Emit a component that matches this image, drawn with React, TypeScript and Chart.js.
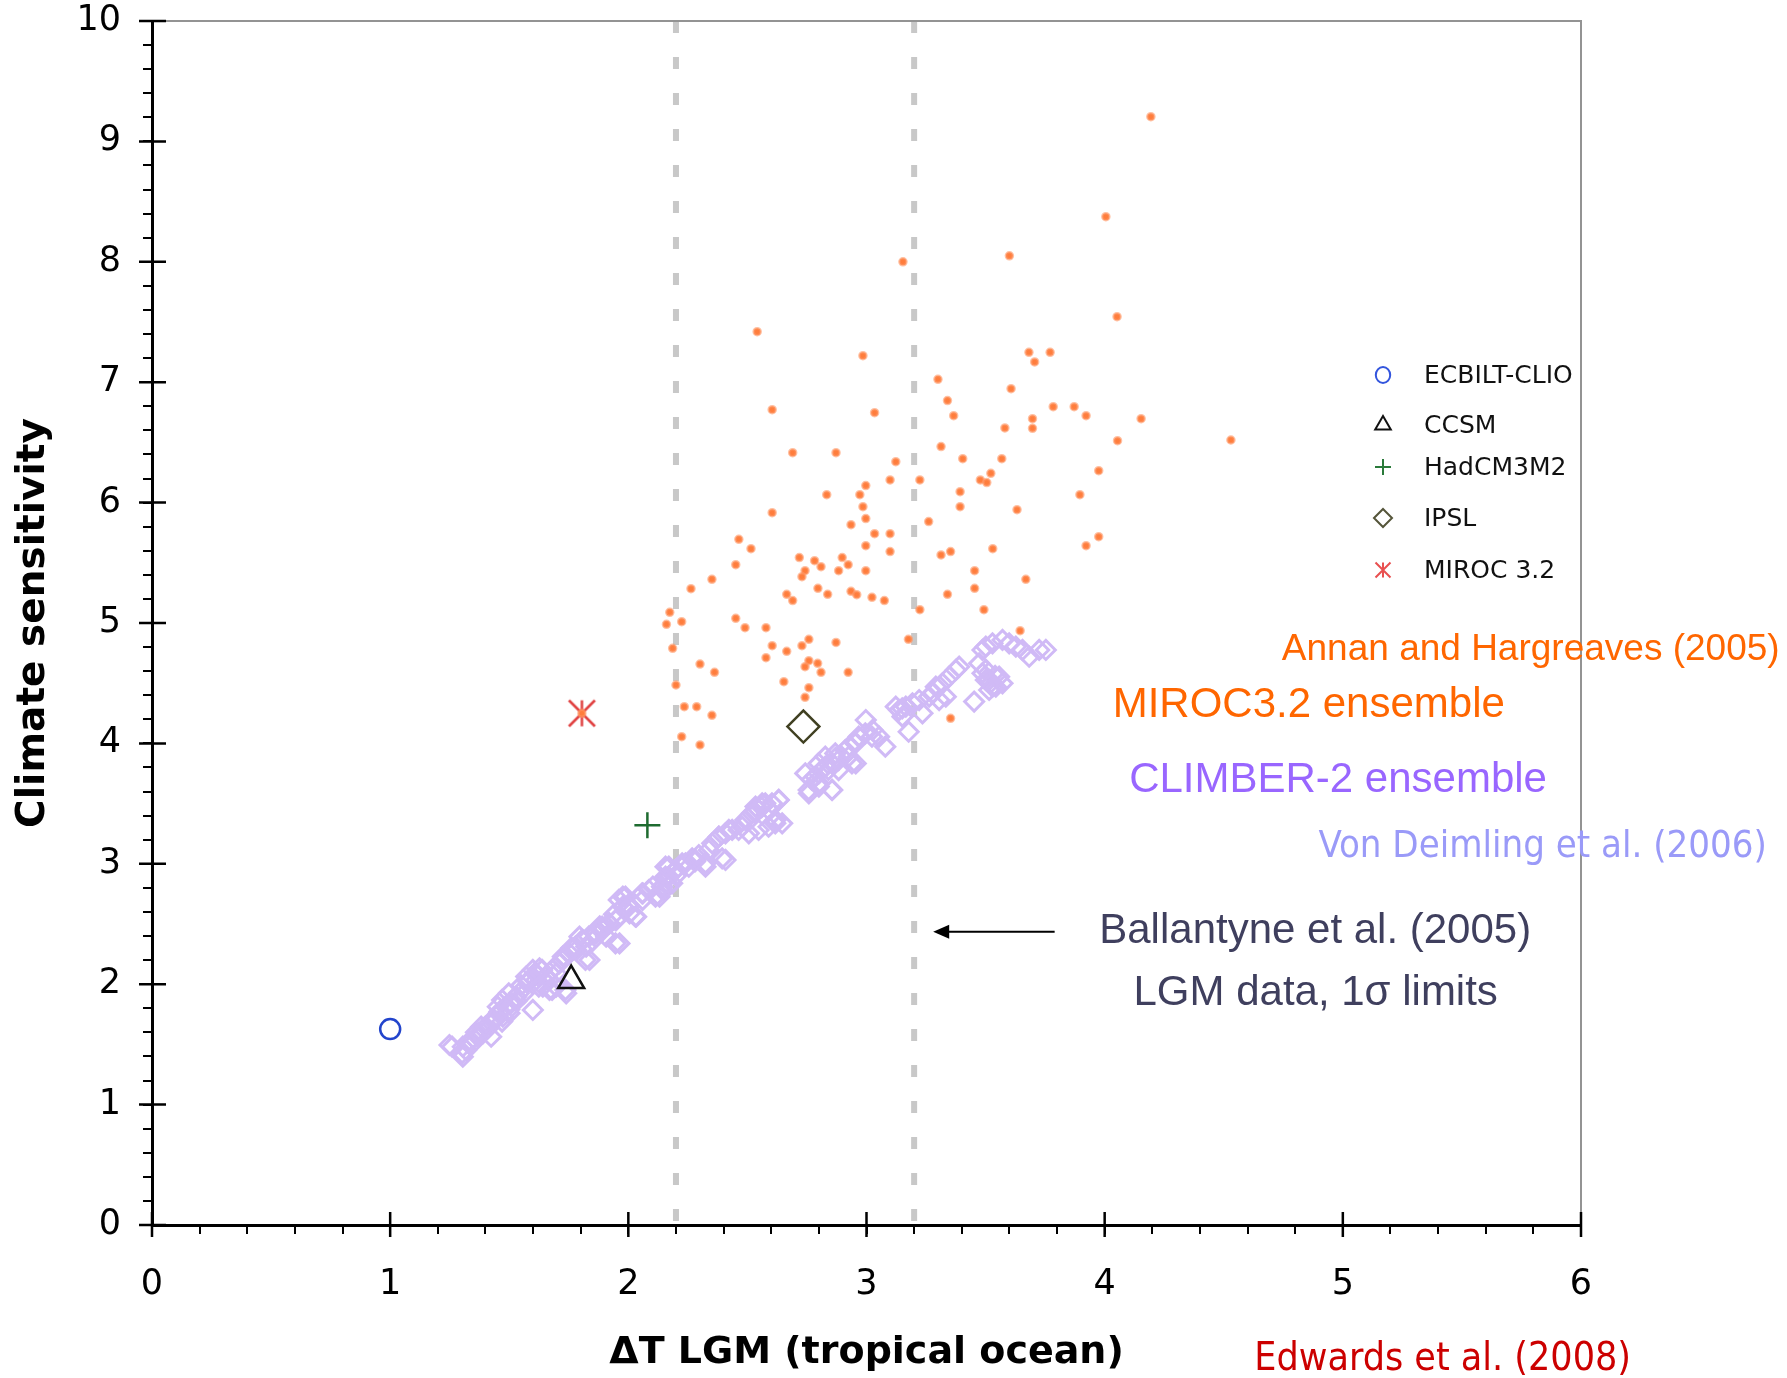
import React, { useEffect, useRef } from 'react';
import { Chart, registerables } from 'chart.js';

Chart.register(...registerables);

// ---------------- data ----------------
const X_TICK_LABELS = ['0', '1', '2', '3', '4', '5', '6'];
const Y_TICK_LABELS = ['0', '1', '2', '3', '4', '5', '6', '7', '8', '9', '10'];

// Annan and Hargreaves (2005) MIROC3.2 ensemble  [ΔT, sensitivity]
const MIROC_ENSEMBLE: [number, number][] = [
  [4.194, 9.205], [4.005, 8.375], [3.6, 8.05], [3.153, 8.0], [4.53, 6.52],
  [2.541, 7.42], [4.052, 7.544], [2.985, 7.22], [3.682, 7.248], [3.771, 7.248],
  [3.706, 7.168], [3.30, 7.024], [3.607, 6.946], [3.34, 6.847], [2.604, 6.772],
  [3.034, 6.747], [3.366, 6.722], [3.784, 6.797], [3.872, 6.797], [3.922, 6.722],
  [3.697, 6.697], [3.697, 6.617], [3.581, 6.62], [4.153, 6.697], [4.054, 6.514],
  [3.313, 6.465], [2.69, 6.415], [2.872, 6.415], [3.123, 6.34], [3.404, 6.365],
  [3.568, 6.365], [3.975, 6.265], [3.099, 6.188], [3.224, 6.188], [3.478, 6.188],
  [3.522, 6.243], [3.505, 6.166], [2.997, 6.141], [2.833, 6.066], [2.972, 6.066],
  [2.985, 5.966], [3.393, 6.091], [3.393, 5.966], [3.896, 6.066], [3.632, 5.941],
  [2.604, 5.916], [2.997, 5.867], [2.935, 5.817], [3.261, 5.842], [3.034, 5.742],
  [3.099, 5.742], [2.464, 5.695], [2.515, 5.617], [2.997, 5.642], [3.099, 5.593],
  [3.313, 5.565], [3.353, 5.593], [3.53, 5.617], [3.975, 5.717], [3.922, 5.642],
  [2.718, 5.543], [2.782, 5.518], [2.898, 5.543], [2.451, 5.484], [2.809, 5.468],
  [2.742, 5.435], [2.923, 5.484], [2.883, 5.435], [2.997, 5.435], [2.729, 5.385],
  [3.454, 5.435], [2.351, 5.363], [3.669, 5.363], [2.263, 5.285], [2.796, 5.288],
  [2.837, 5.238], [2.935, 5.263], [2.959, 5.235], [3.023, 5.213], [3.075, 5.186],
  [2.665, 5.238], [2.69, 5.186], [3.34, 5.238], [3.454, 5.288], [3.224, 5.111],
  [3.493, 5.111], [2.174, 5.089], [2.16, 4.989], [2.224, 5.011], [2.451, 5.039],
  [2.49, 4.961], [2.578, 4.961], [2.186, 4.79], [3.645, 4.936], [2.758, 4.864],
  [2.729, 4.812], [2.604, 4.812], [2.872, 4.839], [3.176, 4.864], [2.665, 4.765],
  [2.578, 4.712], [2.301, 4.659], [2.758, 4.687], [2.795, 4.665], [2.742, 4.637],
  [2.362, 4.59], [2.809, 4.59], [2.923, 4.59], [2.2, 4.485], [2.653, 4.513],
  [2.758, 4.463], [2.742, 4.383], [2.235, 4.305], [2.287, 4.305], [2.351, 4.233],
  [3.353, 4.208], [2.224, 4.056], [2.301, 3.987], [1.805, 4.25],
];

// Von Deimling et al. (2006) CLIMBER-2 ensemble  [ΔT, sensitivity]
const CLIMBER_ENSEMBLE: [number, number][] = [
  [1.249, 1.495], [1.305, 1.398], [1.319, 1.453], [1.347, 1.509], [1.305, 1.481],
  [1.368, 1.564], [1.389, 1.592], [1.41, 1.633], [1.382, 1.647], [1.424, 1.564],
  [1.459, 1.772], [1.487, 1.813], [1.473, 1.73], [1.508, 1.841], [1.501, 1.758],
  [1.529, 1.896], [1.452, 1.813], [1.571, 2.063], [1.599, 2.118], [1.627, 2.132],
  [1.613, 2.035], [1.641, 1.98], [1.655, 2.063], [1.669, 1.952], [1.599, 1.786],
  [1.697, 2.09], [1.711, 2.173], [1.725, 2.229], [1.753, 2.256], [1.781, 2.284],
  [1.739, 1.924], [1.697, 1.98], [1.809, 2.367], [1.823, 2.312], [1.795, 2.395],
  [1.837, 2.201], [1.865, 2.422], [1.893, 2.45], [1.921, 2.505], [1.907, 2.395],
  [1.949, 2.533], [1.963, 2.339], [1.977, 2.727], [1.977, 2.644], [2.005, 2.589],
  [2.033, 2.561], [2.061, 2.755], [2.103, 2.81], [2.131, 2.727], [2.145, 2.782],
  [2.173, 2.824], [1.44, 1.70], [1.50, 1.79], [1.53, 1.86], [1.56, 1.92],
  [1.33, 1.52], [1.36, 1.60], [1.47, 1.69], [1.55, 1.99], [1.58, 2.02],
  [1.62, 2.07], [1.68, 2.12], [1.76, 2.30], [1.85, 2.36], [1.88, 2.48],
  [1.94, 2.58], [2.00, 2.66], [2.06, 2.70],
  [1.26, 1.481], [1.302, 1.426], [1.33, 1.509], [1.372, 1.592], [1.40, 1.647],
  [1.428, 1.703], [1.456, 1.758], [1.484, 1.813], [1.47, 1.869], [1.498, 1.924],
  [1.54, 1.924], [1.582, 2.035], [1.61, 2.09], [1.638, 2.118], [1.624, 1.98],
  [1.666, 2.035], [1.694, 2.146], [1.722, 2.201], [1.68, 1.952], [1.736, 1.952],
  [1.778, 2.312], [1.806, 2.367], [1.834, 2.395], [1.862, 2.422], [1.82, 2.201],
  [1.89, 2.478], [1.918, 2.506], [1.946, 2.533], [1.946, 2.34], [1.96, 2.70],
  [1.988, 2.727], [2.002, 2.644], [2.03, 2.561], [2.058, 2.755], [2.086, 2.782],
  [2.114, 2.727], [2.142, 2.81], [2.156, 2.893], [2.17, 2.976], [2.198, 2.948],
  [2.226, 3.004], [2.254, 2.976], [2.282, 3.032], [2.324, 2.976], [2.338, 3.115],
  [2.38, 3.225], [2.408, 3.032], [2.436, 3.281], [2.478, 3.308], [2.506, 3.253],
  [2.534, 3.475], [2.562, 3.502], [2.59, 3.447], [2.618, 3.364], [2.632, 3.53],
  [2.646, 3.336], [2.758, 3.585], [2.80, 3.641], [2.856, 3.613],
  [2.142, 2.81], [2.17, 2.893], [2.156, 2.976], [2.198, 2.949], [2.184, 2.838],
  [2.24, 3.004], [2.268, 3.045], [2.296, 3.073], [2.324, 3.004], [2.394, 3.045],
  [2.352, 3.17], [2.38, 3.225], [2.408, 3.253], [2.422, 3.281], [2.463, 3.281],
  [2.491, 3.364], [2.519, 3.419], [2.547, 3.447], [2.575, 3.502], [2.603, 3.502],
  [2.631, 3.53], [2.547, 3.281], [2.589, 3.308], [2.617, 3.336], [2.757, 3.613],
  [2.743, 3.751], [2.785, 3.724], [2.813, 3.779], [2.827, 3.807], [2.855, 3.834],
  [2.799, 3.668], [2.855, 3.613], [2.883, 3.862], [2.911, 3.945], [2.939, 3.834],
  [2.953, 4.0], [2.967, 4.056], [2.995, 4.084], [3.023, 4.056], [3.079, 3.973],
  [3.177, 4.097], [2.20, 2.90], [2.28, 3.02], [2.53, 3.43], [2.56, 3.47],
  [2.77, 3.70], [2.80, 3.75], [2.84, 3.78], [2.87, 3.88], [2.93, 3.98],
  [2.827, 3.89], [2.869, 3.917], [2.799, 3.834], [2.883, 3.779], [2.925, 3.89],
  [2.955, 3.834], [2.997, 4.194], [3.025, 4.111], [3.053, 4.056], [3.137, 4.277],
  [3.165, 4.305], [3.193, 4.333], [3.221, 4.36], [3.235, 4.25], [3.263, 4.388],
  [3.291, 4.471], [3.319, 4.499], [3.305, 4.36], [3.347, 4.554], [3.375, 4.61],
  [3.389, 4.637], [3.452, 4.347], [3.473, 4.665], [3.501, 4.61], [3.515, 4.527],
  [3.529, 4.471], [3.557, 4.554], [3.571, 4.499], [3.487, 4.776], [3.501, 4.803],
  [3.529, 4.831], [3.571, 4.859], [3.599, 4.831], [3.627, 4.803], [3.655, 4.776],
  [3.683, 4.72], [3.725, 4.776], [3.753, 4.776], [3.52, 4.50], [3.54, 4.56],
  [3.15, 4.29], [3.28, 4.42], [3.501, 4.527], [3.543, 4.471], [3.515, 4.444],
  [3.487, 4.582], [3.277, 4.416], [3.333, 4.388], [3.123, 4.305], [3.151, 4.222],
];

// single GCM results
const MODEL_NAMES = ['ECBILT-CLIO', 'CCSM', 'HadCM3M2', 'IPSL', 'MIROC 3.2'];
const MODEL_DT = [1.0, 1.76, 2.08, 2.735, 1.805];
const MODEL_SENS = [1.627, 2.03, 3.32, 4.14, 4.25];

// Ballantyne et al. (2005) LGM data, 1 sigma limits
const LGM_LIMITS = [2.2, 3.2];

// ---------------- helpers ----------------
function makeAsterisk(half: number, color: string, lw: number): HTMLCanvasElement {
  const s = Math.ceil(2 * half + lw + 2);
  const c = document.createElement('canvas');
  c.width = s;
  c.height = s;
  const g = c.getContext('2d')!;
  drawAsterisk(g, s / 2, s / 2, half, color, lw);
  return c;
}

function drawAsterisk(g: CanvasRenderingContext2D, cx: number, cy: number, h: number, color: string, lw: number) {
  g.save();
  g.strokeStyle = color;
  g.lineWidth = lw;
  g.beginPath();
  g.moveTo(cx, cy - h);
  g.lineTo(cx, cy + h);
  g.moveTo(cx - h, cy - h);
  g.lineTo(cx + h, cy + h);
  g.moveTo(cx + h, cy - h);
  g.lineTo(cx - h, cy + h);
  g.stroke();
  g.restore();
}

function drawMarker(g: CanvasRenderingContext2D, kind: string, x: number, y: number, r: number, color: string, lw: number) {
  if (kind === 'asterisk') {
    drawAsterisk(g, x, y, r, color, lw);
    return;
  }
  g.save();
  g.strokeStyle = color;
  g.lineWidth = lw;
  g.beginPath();
  if (kind === 'circle') {
    g.ellipse(x, y, r * 0.9, r, 0, 0, Math.PI * 2);
  } else if (kind === 'triangle') {
    for (let i = 0; i < 3; i++) {
      const a = (i * 2 * Math.PI) / 3;
      const px = x + Math.sin(a) * r;
      const py = y - Math.cos(a) * r;
      if (i === 0) g.moveTo(px, py);
      else g.lineTo(px, py);
    }
    g.closePath();
  } else if (kind === 'cross') {
    g.moveTo(x - r, y);
    g.lineTo(x + r, y);
    g.moveTo(x, y - r);
    g.lineTo(x, y + r);
  } else if (kind === 'rectRot') {
    g.moveTo(x - r, y);
    g.lineTo(x, y - r);
    g.lineTo(x + r, y);
    g.lineTo(x, y + r);
    g.closePath();
  }
  g.stroke();
  g.restore();
}

const LABEL_FONT = "'Liberation Sans', Arial, sans-serif";
const COMIC_FONT = "'DejaVu Sans Condensed', 'DejaVu Sans', sans-serif";

const decorPlugin = {
  id: 'decor',
  beforeDatasetsDraw(chart: any) {
    const { ctx, chartArea: a, scales } = chart;
    const xs = scales.x;
    ctx.save();
    ctx.strokeStyle = '#c8c8c8';
    ctx.lineWidth = 6;
    ctx.setLineDash([12, 24]);
    LGM_LIMITS.forEach((v) => {
      const px = xs.getPixelForValue(v);
      ctx.beginPath();
      ctx.moveTo(px, a.top);
      ctx.lineTo(px, a.bottom);
      ctx.stroke();
    });
    ctx.setLineDash([]);
    ctx.strokeStyle = '#939393';
    ctx.lineWidth = 2;
    ctx.beginPath();
    ctx.moveTo(a.left, a.top);
    ctx.lineTo(a.right, a.top);
    ctx.lineTo(a.right, a.bottom);
    ctx.stroke();
    ctx.restore();
  },
  afterDraw(chart: any) {
    const { ctx, chartArea: a, scales } = chart;
    const xs = scales.x;
    const ys = scales.y;
    ctx.save();
    // crossing major ticks
    ctx.strokeStyle = '#000';
    ctx.lineWidth = 2.5;
    ctx.beginPath();
    Y_TICK_LABELS.forEach((_, i) => {
      const py = ys.getPixelForValue(i);
      ctx.moveTo(a.left - 13, py);
      ctx.lineTo(a.left + 14, py);
    });
    X_TICK_LABELS.forEach((_, i) => {
      const px = xs.getPixelForValue(i);
      ctx.moveTo(px, a.bottom - 13);
      ctx.lineTo(px, a.bottom + 12);
    });
    ctx.stroke();

    // arrow pointing at the upper LGM limit
    const ay = ys.getPixelForValue(2.436);
    const ax0 = xs.getPixelForValue(3.79);
    const ax1 = xs.getPixelForValue(3.28);
    ctx.lineWidth = 2;
    ctx.beginPath();
    ctx.moveTo(ax0, ay);
    ctx.lineTo(ax1 + 12, ay);
    ctx.stroke();
    ctx.fillStyle = '#000';
    ctx.beginPath();
    ctx.moveTo(ax1, ay);
    ctx.lineTo(ax1 + 16, ay - 7);
    ctx.lineTo(ax1 + 16, ay + 7);
    ctx.closePath();
    ctx.fill();

    // annotations
    const notes = [
      { t: 'Annan and Hargreaves (2005)', x: 5.789, y: 4.693, c: '#ff6600', f: `37px ${LABEL_FONT}` },
      { t: 'MIROC3.2 ensemble', x: 4.857, y: 4.219, c: '#ff6600', f: `42px ${LABEL_FONT}` },
      { t: 'CLIMBER-2 ensemble', x: 4.98, y: 3.596, c: '#9966ff', f: `42px ${LABEL_FONT}` },
      { t: 'Von Deimling et al. (2006)', x: 5.839, y: 3.056, c: '#9a9af8', f: `38px ${COMIC_FONT}` },
      { t: 'Ballantyne et al. (2005)', x: 4.884, y: 2.342, c: '#3f3f5e', f: `42px ${LABEL_FONT}` },
      { t: 'LGM data, 1\u03c3 limits', x: 4.886, y: 1.827, c: '#3f3f5e', f: `42px ${LABEL_FONT}` },
      { t: 'Edwards et al. (2008)', x: 5.419, y: -1.204, c: '#cc0000', f: `39px ${COMIC_FONT}` },
    ];
    ctx.textAlign = 'center';
    ctx.textBaseline = 'alphabetic';
    notes.forEach((n) => {
      ctx.font = n.f;
      ctx.fillStyle = n.c;
      ctx.fillText(n.t, xs.getPixelForValue(n.x), ys.getPixelForValue(n.y));
    });

    // legend of single models
    const rows = [354, 404, 446, 497, 549];
    const kinds = ['circle', 'triangle', 'cross', 'rectRot', 'asterisk'];
    const colors = ['#3355dd', '#111111', '#2a7a3a', '#55553a', '#e85050'];
    const sizes = [8, 9, 8, 9, 7.5];
    const mx = a.right - 198;
    const tx = a.right - 157;
    ctx.textAlign = 'left';
    ctx.textBaseline = 'middle';
    ctx.font = "25px 'DejaVu Sans', Verdana, sans-serif";
    MODEL_NAMES.forEach((name, i) => {
      const yy = a.top + rows[i];
      drawMarker(ctx, kinds[i], mx, yy, sizes[i], colors[i], 2);
      ctx.fillStyle = '#111';
      ctx.fillText(name, tx, yy + 1);
    });
    ctx.restore();
  },
};

export default function App() {
  const ref = useRef<HTMLCanvasElement | null>(null);

  useEffect(() => {
    if (!ref.current) return;
    const asterisk = makeAsterisk(13, '#e04040', 2.5);
    const pt = (i: number) => [{ x: MODEL_DT[i], y: MODEL_SENS[i] }];
    const tickFont = { family: "'DejaVu Sans', Verdana, sans-serif", size: 35 };
    const labelOf = (labels: string[]) => (v: any) => {
      const n = Number(v);
      const r = Math.round(n);
      return Math.abs(n - r) < 1e-6 && labels[r] !== undefined ? labels[r] : '';
    };

    const chart = new Chart(ref.current, {
      type: 'scatter',
      data: {
        datasets: [
          {
            label: 'MIROC3.2 ensemble',
            data: MIROC_ENSEMBLE.map(([x, y]) => ({ x, y })),
            pointStyle: 'circle',
            pointRadius: 3.5,
            pointBorderWidth: 2.5,
            pointBackgroundColor: 'rgb(255,125,60)',
            pointBorderColor: 'rgba(255,150,100,0.6)',
            order: 0,
          } as any,
          {
            label: MODEL_NAMES[0],
            data: pt(0),
            pointStyle: 'circle',
            pointRadius: 10,
            pointBorderWidth: 2.5,
            pointBorderColor: '#2244cc',
            pointBackgroundColor: 'rgba(0,0,0,0)',
            order: 1,
          },
          {
            label: MODEL_NAMES[1],
            data: pt(1),
            pointStyle: 'triangle',
            pointRadius: 15,
            pointBorderWidth: 2.5,
            pointBorderColor: '#111111',
            pointBackgroundColor: 'rgba(0,0,0,0)',
            order: 1,
          },
          {
            label: MODEL_NAMES[2],
            data: pt(2),
            pointStyle: 'cross',
            pointRadius: 13,
            pointBorderWidth: 2.5,
            pointBorderColor: '#1e6b30',
            pointBackgroundColor: 'rgba(0,0,0,0)',
            order: 1,
          },
          {
            label: MODEL_NAMES[3],
            data: pt(3),
            pointStyle: 'rectRot',
            pointRadius: 16,
            pointBorderWidth: 2.5,
            pointBorderColor: '#404022',
            pointBackgroundColor: 'rgba(0,0,0,0)',
            order: 1,
          },
          {
            label: MODEL_NAMES[4],
            data: pt(4),
            pointStyle: asterisk as any,
            pointRadius: 13,
            order: 1,
          },
          {
            label: 'CLIMBER-2 ensemble',
            data: CLIMBER_ENSEMBLE.map(([x, y]) => ({ x, y })),
            pointStyle: 'rectRot',
            pointRadius: 9.5,
            pointBorderWidth: 3,
            pointBorderColor: 'rgb(208,186,246)',
            pointBackgroundColor: 'rgba(0,0,0,0)',
            order: 2,
          },
        ],
      },
      options: {
        responsive: false,
        animation: false,
        events: [],
        layout: { padding: { top: 21, right: 206, left: 0, bottom: 0 } },
        plugins: { legend: { display: false }, tooltip: { enabled: false } },
        scales: {
          x: {
            type: 'linear',
            min: 0,
            max: 6,
            afterFit: (s: any) => {
              s.height = 153;
              s.paddingLeft = 0;
              s.paddingRight = 0;
            },
            ticks: {
              stepSize: 0.2,
              autoSkip: false,
              maxRotation: 0,
              padding: 30,
              color: '#000',
              font: tickFont,
              callback: labelOf(X_TICK_LABELS),
            },
            grid: { drawOnChartArea: false, drawTicks: true, tickLength: 9, color: '#000', lineWidth: 2 },
            border: { display: true, color: '#000', width: 3 },
            title: {
              display: true,
              text: '\u0394T LGM (tropical ocean)',
              color: '#000',
              font: { family: "'DejaVu Sans', Verdana, sans-serif", size: 38, weight: 'bold' },
              padding: { top: 0, bottom: 2 },
            },
          },
          y: {
            type: 'linear',
            min: 0,
            max: 10,
            afterFit: (s: any) => {
              s.width = 152;
              s.paddingTop = 0;
              s.paddingBottom = 0;
            },
            ticks: {
              stepSize: 0.2,
              autoSkip: false,
              padding: 22,
              color: '#000',
              font: tickFont,
              callback: labelOf(Y_TICK_LABELS),
            },
            grid: { drawOnChartArea: false, drawTicks: true, tickLength: 9, color: '#000', lineWidth: 2 },
            border: { display: true, color: '#000', width: 3 },
            title: {
              display: true,
              text: 'Climate sensitivity',
              color: '#000',
              font: { family: "'DejaVu Sans', Verdana, sans-serif", size: 39, weight: 'bold' },
              padding: { top: 10, bottom: 0 },
            },
          },
        },
      } as any,
      plugins: [decorPlugin],
    });
    return () => chart.destroy();
  }, []);

  return (
    <div style={{ position: 'absolute', left: 0, top: 0, width: 1787, height: 1378, background: '#fff' }}>
      <canvas ref={ref} width={1787} height={1378} style={{ display: 'block' }} />
    </div>
  );
}
